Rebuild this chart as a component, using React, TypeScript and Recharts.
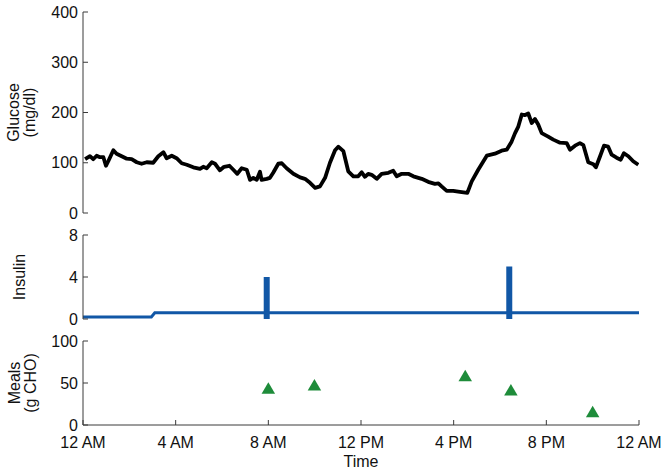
import React from 'react';
import { LineChart, Line, XAxis, YAxis, ScatterChart, Scatter, Label } from 'recharts';

// Glucose trace (time in hours since midnight, mg/dl)
const glucoseHours = [
  0.09, 0.3, 0.44, 0.59, 0.73, 0.88, 0.99, 1.09, 1.31, 1.45, 1.67, 1.89, 2.1, 2.32, 2.53, 2.75,
  3.03, 3.25, 3.47, 3.61, 3.83, 4.04, 4.26, 4.48, 4.76, 5.05, 5.19, 5.34, 5.56, 5.7, 5.91, 6.09,
  6.32, 6.49, 6.66, 6.85, 7.07, 7.21, 7.35, 7.5, 7.64, 7.71, 7.93, 8.07, 8.21, 8.43, 8.58, 8.79,
  9.08, 9.37, 9.58, 9.8, 10.02, 10.23, 10.45, 10.66, 10.88, 11.02, 11.24, 11.45, 11.67, 11.88,
  12.03, 12.17, 12.31, 12.46, 12.68, 12.89, 13.18, 13.39, 13.54, 13.76, 14.04, 14.26, 14.62,
  14.9, 15.19, 15.34, 15.48, 15.7, 15.98, 16.27, 16.59, 16.78, 17.06, 17.43, 17.78, 18.07,
  18.29, 18.5, 18.65, 18.79, 18.94, 19.08, 19.22, 19.37, 19.51, 19.65, 19.8, 20.08, 20.3,
  20.59, 20.88, 21.02, 21.24, 21.45, 21.6, 21.81, 22.03, 22.14, 22.32, 22.49, 22.67, 22.82,
  23.03, 23.21, 23.35, 23.54, 23.75, 23.97,
];
const glucoseValues = [
  107, 113, 107, 114, 111, 111, 94, 103, 125, 118, 113, 108, 107, 101, 98, 101,
  100, 113, 121, 109, 114, 109, 99, 96, 91, 88, 92, 89, 101, 98, 85, 92,
  94, 86, 78, 89, 86, 66, 70, 66, 82, 66, 68, 70, 80, 98, 99, 89,
  78, 71, 68, 60, 50, 53, 70, 100, 125, 132, 123, 83, 73, 73,
  81, 72, 78, 76, 68, 78, 80, 84, 73, 78, 78, 73, 68,
  62, 58, 59, 53, 44, 44, 42, 40, 63, 86, 114, 118, 124,
  126, 142, 159, 172, 196, 195, 198, 179, 187, 176, 159, 152, 146,
  140, 139, 126, 134, 139, 135, 101, 97, 91, 113, 134, 132, 116,
  110, 106, 119, 113, 103, 96,
];

// Insulin (U)
const basalHours = [0, 2.95, 3.1, 24];
const basalRates = [0.2, 0.2, 0.6, 0.6];
const bolusHours = [7.93, 18.4];
const bolusUnits = [4, 5];

// Meals (g CHO)
const mealHours = [8.0, 9.99, 16.5, 18.47, 22.0];
const mealCarbs = [44, 48, 59, 42, 16];

// Axis ticks
const timeTicks = [0, 4, 8, 12, 16, 20, 24];
const timeLabels = ['12 AM', '4 AM', '8 AM', '12 PM', '4 PM', '8 PM', '12 AM'];
const glucoseTicks = [0, 100, 200, 300, 400];
const insulinTicks = [0, 4, 8];
const mealTicks = [0, 50, 100];

const FONT = '"Liberation Sans", Arial, Helvetica, sans-serif';
const FS = 16;
const AXIS = '#3a3a3a';
const TXT = '#111111';
const BLUE = '#1157a6';
const GREEN = '#1e8c3a';
const W = 668;
const MR = 29;

const glucoseData = glucoseHours.map((h, i) => ({ h, v: glucoseValues[i] }));
const basalData = basalHours.map((h, i) => ({ h, v: basalRates[i] }));
const bolusData = bolusHours.map((h, i) => [
  { h, v: 0 },
  { h, v: bolusUnits[i] },
]);
const mealData = mealHours.map((h, i) => ({ h, v: mealCarbs[i] }));

const tickStyle = { fontSize: FS, fill: TXT, fontFamily: FONT };

const yLabel = (lines: string[], xs: number[]) => (props: any) => {
  const vb = props.viewBox || { y: 0, height: 0 };
  const cy = vb.y + vb.height / 2;
  return (
    <g>
      {lines.map((t, i) => (
        <text
          key={i}
          x={xs[i]}
          y={cy}
          transform={`rotate(-90, ${xs[i]}, ${cy})`}
          textAnchor="middle"
          fontSize={FS}
          fontFamily={FONT}
          fill={TXT}
        >
          {t}
        </text>
      ))}
    </g>
  );
};

function frameAxes(yTicks: number[], yMax: number, showX: boolean, labelLines: string[], labelXs: number[]) {
  return [
    <XAxis
      key="xb"
      xAxisId="b"
      orientation="bottom"
      type="number"
      dataKey="h"
      domain={[0, 24]}
      ticks={timeTicks}
      allowDataOverflow
      height={showX ? 46 : 0}
      tickSize={-5}
      tickMargin={17}
      axisLine={{ stroke: AXIS }}
      tickLine={{ stroke: AXIS }}
      tick={showX ? tickStyle : false}
      tickFormatter={(v: number) => timeLabels[timeTicks.indexOf(v)]}
      interval={0}
    >
      {showX ? (
        <Label value="Time" position="insideBottom" offset={4} fontSize={FS} fill={TXT} fontFamily={FONT} />
      ) : null}
    </XAxis>,
    <XAxis
      key="xt"
      xAxisId="t"
      orientation="top"
      type="number"
      dataKey="h"
      domain={[0, 24]}
      ticks={timeTicks}
      allowDataOverflow
      height={0}
      tickSize={-5}
      axisLine={{ stroke: AXIS }}
      tickLine={{ stroke: AXIS }}
      tick={false}
      interval={0}
    />,
    <YAxis
      key="yl"
      yAxisId="l"
      orientation="left"
      type="number"
      domain={[0, yMax]}
      ticks={yTicks}
      allowDataOverflow
      width={83}
      tickSize={-5}
      tickMargin={10}
      axisLine={{ stroke: AXIS }}
      tickLine={{ stroke: AXIS }}
      tick={tickStyle}
      interval={0}
    >
      <Label content={yLabel(labelLines, labelXs)} />
    </YAxis>,
    <YAxis
      key="yr"
      yAxisId="r"
      orientation="right"
      type="number"
      domain={[0, yMax]}
      ticks={yTicks}
      allowDataOverflow
      width={0}
      tickSize={-5}
      axisLine={{ stroke: AXIS }}
      tickLine={{ stroke: AXIS }}
      tick={false}
      interval={0}
    />,
  ];
}

const triangle = (props: any) => {
  const { cx, cy } = props;
  const w = 13.5;
  const hgt = 11.5;
  const pts = `${cx},${cy - hgt / 2} ${cx - w / 2},${cy + hgt / 2} ${cx + w / 2},${cy + hgt / 2}`;
  return <polygon points={pts} fill={GREEN} />;
};

export default function App() {
  return (
    <div
      style={{
        position: 'absolute',
        left: 0,
        top: 0,
        width: W,
        height: 471,
        background: '#fff',
        fontFamily: FONT,
      }}
    >
      <div style={{ position: 'absolute', left: 0, top: 0 }}>
        <LineChart
          width={W}
          height={225}
          margin={{ top: 12, right: MR, bottom: 12, left: 0 }}
          style={{ overflow: 'visible' }}
        >
          {frameAxes(glucoseTicks, 400, false, ['Glucose', '(mg/dl)'], [19, 35])}
          <Line
            xAxisId="b"
            yAxisId="l"
            data={glucoseData}
            dataKey="v"
            type="linear"
            stroke="#000"
            strokeWidth={3.8}
            strokeLinejoin="round"
            dot={false}
            isAnimationActive={false}
          />
        </LineChart>
      </div>
      <div style={{ position: 'absolute', left: 0, top: 225 }}>
        <LineChart
          width={W}
          height={105}
          margin={{ top: 10, right: MR, bottom: 11, left: 0 }}
          style={{ overflow: 'visible' }}
        >
          {frameAxes(insulinTicks, 8, false, ['Insulin'], [25])}
          {bolusData.map((d, i) => (
            <Line
              key={'b' + i}
              xAxisId="b"
              yAxisId="l"
              data={d}
              dataKey="v"
              type="linear"
              stroke={BLUE}
              strokeWidth={6}
              strokeLinecap="butt"
              dot={false}
              isAnimationActive={false}
            />
          ))}
          <Line
            xAxisId="b"
            yAxisId="l"
            data={basalData}
            dataKey="v"
            type="linear"
            stroke={BLUE}
            strokeWidth={3}
            dot={false}
            isAnimationActive={false}
          />
        </LineChart>
      </div>
      <div style={{ position: 'absolute', left: 0, top: 330 }}>
        <ScatterChart
          width={W}
          height={141}
          margin={{ top: 11, right: MR, bottom: 0, left: 0 }}
          style={{ overflow: 'visible' }}
        >
          {frameAxes(mealTicks, 100, true, ['Meals', '(g CHO)'], [20, 36])}
          <Scatter
            xAxisId="b"
            yAxisId="l"
            data={mealData}
            dataKey="v"
            shape={triangle}
            isAnimationActive={false}
          />
        </ScatterChart>
      </div>
    </div>
  );
}
